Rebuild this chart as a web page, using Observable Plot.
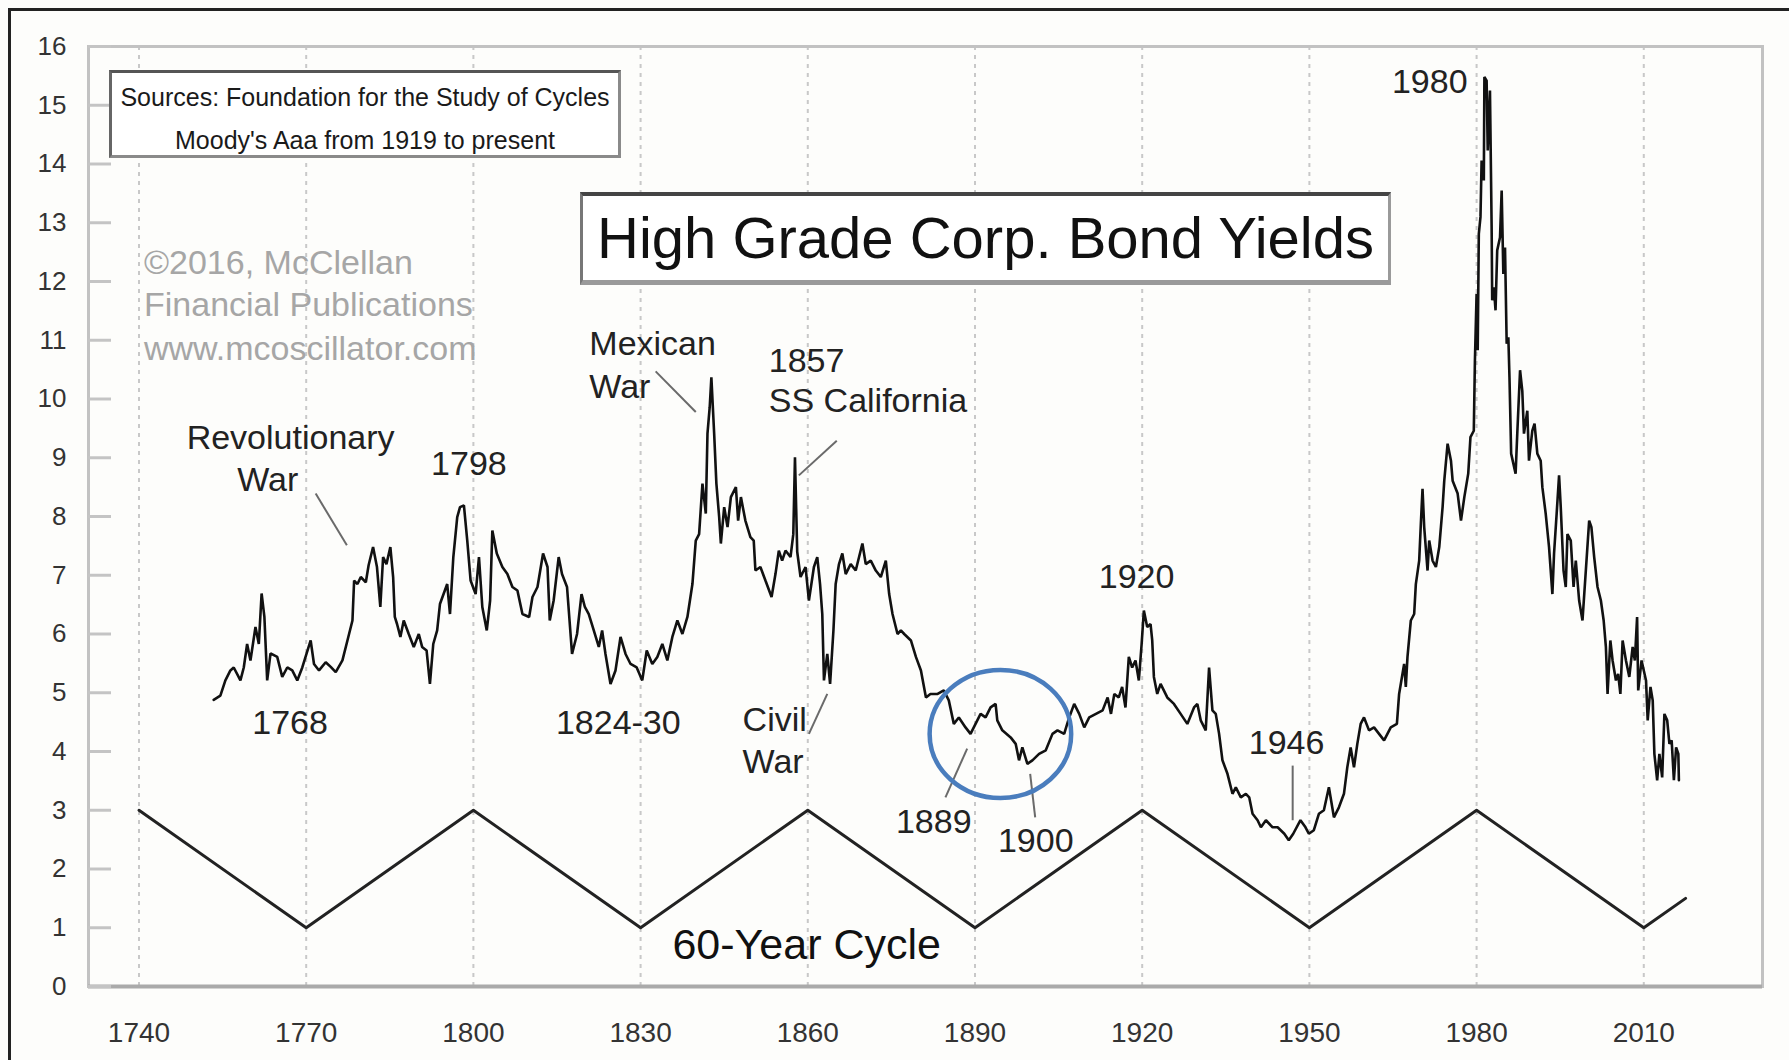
<!DOCTYPE html>
<html><head><meta charset="utf-8">
<script src="https://cdn.jsdelivr.net/npm/d3@7"></script>
<script src="https://cdn.jsdelivr.net/npm/@observablehq/plot@0.6"></script>
<style>
html,body{margin:0;padding:0;background:#fdfdfb;}
#wrap{position:relative;width:1789px;height:1060px;overflow:hidden;font-family:"Liberation Sans",Arial,sans-serif;background:#fdfdfb;}
#chart{position:absolute;left:0;top:0;}
#border{position:absolute;left:8px;top:8px;right:-20px;bottom:-20px;border-top:3px solid #222;border-left:3px solid #222;}
.box{position:absolute;background:#fff;box-sizing:border-box;}
#sources{left:109px;top:70px;width:512px;height:88px;border:3px solid #8a8a8a;border-top-color:#555;border-left-color:#666;}
#sources div{position:absolute;left:0;width:100%;text-align:center;font-size:25px;color:#1a1a1a;line-height:30px;}
#titlebox{left:580px;top:192px;width:811px;height:93px;border:3px solid #9a9a9a;border-top:4px solid #444;border-left-color:#777;border-bottom:5px solid #9a9a9a;}
#titlebox div{position:absolute;left:0;width:100%;text-align:center;font-size:58px;color:#111;line-height:70px;top:7px;}
.copy{position:absolute;left:144px;font-size:34px;color:#a6a6a6;line-height:40px;white-space:nowrap;}
</style></head>
<body>
<div id="wrap">
  <div id="chart"></div>
  <div id="border"></div>
  <div class="box" id="sources"><div style="top:9px">Sources: Foundation for the Study of Cycles</div><div style="top:52px">Moody's Aaa from 1919 to present</div></div>
  <div class="box" id="titlebox"><div>High Grade Corp. Bond Yields</div></div>
  <div class="copy" style="top:242px">©2016, McClellan</div>
  <div class="copy" style="top:284px">Financial Publications</div>
  <div class="copy" style="top:328px">www.mcoscillator.com</div>
</div>
<script>
// ---- tick labels ----
const xTicks = [1740, 1770, 1800, 1830, 1860, 1890, 1920, 1950, 1980, 2010];
const yTicks = [0, 1, 2, 3, 4, 5, 6, 7, 8, 9, 10, 11, 12, 13, 14, 15, 16];

// ---- high grade corporate bond yields ----
const yieldYears = [
1753.4,1754.6,1755.5,1756.4,1757.0,1758.2,1758.8,1759.4,1760.0,1760.9,1761.5,1762.0,1762.5,1763.0,1763.6,1764.8,1765.7,1766.6,1767.5,1768.4,1769.3,1770.8,1771.4,1772.3,1773.5,1774.4,1775.3,1776.5,1777.4,1778.3,1778.6,1779.2,1779.8,1780.7,1781.2,1782.0,1782.7,1783.3,1783.8,1784.4,1785.1,1785.6,1785.9,1786.3,1786.9,1787.5,1788.4,1789.3,1790.2,1790.8,1791.6,1792.2,1792.8,1793.5,1794.0,1795.3,1795.8,1796.4,1797.1,1797.6,1798.3,1798.9,1799.5,
1800.4,1801.0,1801.6,1802.4,1803.0,1803.4,1804.2,1805.2,1806.1,1807.0,1807.9,1808.8,1810.0,1810.6,1811.5,1812.5,1813.3,1813.7,1814.4,1815.3,1815.9,1816.8,1817.7,1818.6,1819.4,1820.0,1820.7,1821.6,1822.5,1823.1,1823.7,1824.6,1825.5,1826.4,1827.3,1828.2,1829.3,1830.3,1831.1,1832.1,1833.0,1833.9,1834.8,1835.7,1836.6,1837.5,1838.4,1839.3,1839.9,1840.5,1841.1,1841.7,1842.0,1842.4,1842.7,1843.2,1843.6,1844.1,1844.4,1845.0,1845.6,1846.2,1847.1,1847.5,1848.0,1848.8,1849.7,1850.3,1850.6,1851.5,1852.4,1853.5,1854.2,1854.8,1855.4,1856.0,1856.9,1857.4,1857.7,1858.1,1858.7,1859.6,
1860.2,1861.1,1861.7,1862.2,1862.6,1862.9,1863.5,1864.0,1864.6,1865.0,1865.6,1866.2,1866.8,1867.7,1868.6,1869.8,1870.4,1871.3,1872.2,1873.1,1874.0,1874.6,1875.2,1876.1,1876.7,1877.3,1878.5,1879.4,1880.3,1881.2,1882.0,1883.3,1884.4,1885.3,1886.2,1887.1,1888.3,1889.2,1890.1,1891.0,1891.9,1892.8,1893.7,1894.0,1894.9,1896.4,1897.3,1897.9,1898.5,1899.4,1900.3,1901.5,1902.7,1903.9,1904.8,1906.0,1906.9,1907.8,1908.7,1909.6,1910.5,1911.7,1912.9,1913.8,1914.4,1915.0,1915.8,1916.4,1917.0,1917.6,1918.2,1918.8,1919.4,1919.9,
1920.3,1920.9,1921.5,1921.8,1922.1,1922.7,1923.3,1924.5,1925.7,1926.9,1928.1,1929.3,1929.9,1930.5,1931.4,1932.0,1932.6,1933.2,1933.8,1934.4,1935.3,1936.2,1936.8,1937.7,1938.6,1939.2,1939.8,1940.7,1941.3,1942.2,1943.4,1944.3,1945.5,1946.3,1947.1,1948.4,1949.3,1949.9,1950.8,1951.7,1952.6,1953.5,1954.4,1955.3,1956.2,1956.8,1957.4,1958.0,1958.6,1959.2,1959.8,1960.7,1961.6,1962.5,1963.4,1964.6,1965.7,1966.1,1966.7,1967.0,1967.3,1967.6,1968.2,1968.8,1969.1,1969.7,1970.0,1970.3,1970.6,1971.2,1971.5,1972.1,1972.7,1973.3,1973.9,1974.2,1974.8,1975.4,1975.7,1976.6,1977.2,1977.8,1978.5,1978.9,1979.5,1979.7,
1980.0,1980.2,1980.4,1980.7,1980.9,1981.3,1981.4,1981.8,1982.0,1982.4,1982.7,1982.8,1983.1,1983.4,1983.7,1984.2,1984.5,1984.8,1985.1,1985.4,1985.7,1985.9,1986.2,1986.6,1987.0,1987.3,1987.8,1988.2,1988.5,1989.1,1989.4,1990.0,1990.4,1990.9,1991.5,1991.8,1992.4,1993.0,1993.6,1993.9,1994.4,1994.8,1995.1,1995.6,1996.0,1996.3,1996.9,1997.4,1997.8,1998.4,1999.0,1999.6,2000.2,2000.6,2001.1,2001.7,2002.3,2002.8,2003.2,2003.5,2004.0,2004.4,2005.0,2005.4,2005.8,2006.2,2006.8,2007.4,2008.0,2008.4,2008.8,2009.0,2009.6,2010.4,2010.7,2011.2,2011.6,2011.9,2012.4,2012.8,2013.3,2013.7,2014.2,2014.6,2015.0,2015.4,2015.8,2016.2,2016.3];
const yieldValues = [
4.88,4.95,5.21,5.38,5.43,5.21,5.43,5.83,5.55,6.12,5.83,6.69,6.29,5.21,5.67,5.61,5.27,5.43,5.38,5.21,5.43,5.89,5.49,5.38,5.52,5.44,5.35,5.55,5.89,6.23,6.91,6.85,6.97,6.88,7.17,7.48,7.14,6.46,7.31,7.19,7.48,6.97,6.29,6.17,5.95,6.23,6.00,5.78,6.00,5.78,5.72,5.15,5.83,6.06,6.51,6.85,6.34,7.31,7.99,8.16,8.19,7.59,6.91,
6.68,7.31,6.46,6.06,6.57,7.76,7.37,7.14,7.02,6.80,6.74,6.34,6.29,6.63,6.80,7.37,7.14,6.23,6.57,7.31,7.02,6.80,5.66,6.00,6.68,6.46,6.34,6.06,5.78,6.06,5.66,5.15,5.38,5.95,5.66,5.49,5.43,5.21,5.72,5.49,5.61,5.83,5.55,5.95,6.23,6.00,6.29,6.85,7.59,7.70,8.56,8.05,9.41,9.86,10.37,9.41,8.56,7.99,7.54,8.16,7.82,8.33,8.50,7.93,8.33,7.93,7.65,7.59,7.08,7.14,6.91,6.63,7.02,7.42,7.25,7.42,7.31,7.70,9.01,7.40,6.97,7.14,
6.57,7.14,7.31,6.85,6.34,5.21,5.66,5.15,6.06,6.85,7.19,7.37,7.02,7.19,7.08,7.54,7.19,7.25,7.08,6.97,7.25,6.68,6.34,6.00,6.06,6.00,5.89,5.61,5.38,4.92,4.98,4.98,5.04,4.87,4.47,4.58,4.41,4.30,4.47,4.64,4.58,4.75,4.81,4.53,4.36,4.24,4.13,3.85,4.07,3.79,3.85,3.96,4.02,4.30,4.36,4.30,4.58,4.81,4.64,4.41,4.58,4.64,4.70,4.92,4.64,4.98,4.92,5.10,4.75,5.61,5.43,5.55,5.21,5.83,
6.40,6.12,6.17,5.89,5.27,4.98,5.15,4.92,4.81,4.64,4.47,4.75,4.81,4.53,4.36,5.43,4.70,4.64,4.30,3.85,3.62,3.28,3.39,3.22,3.28,3.22,2.94,2.83,2.71,2.83,2.71,2.71,2.60,2.49,2.60,2.83,2.71,2.60,2.66,2.94,3.00,3.39,2.88,3.05,3.28,3.73,4.07,3.73,4.13,4.47,4.58,4.36,4.41,4.30,4.19,4.41,4.47,4.98,5.32,5.49,5.10,5.61,6.23,6.34,6.85,7.25,7.88,8.47,7.82,7.08,7.59,7.25,7.14,7.48,8.16,8.61,9.24,8.95,8.61,8.39,7.93,8.33,8.73,9.35,9.46,10.66,
11.79,10.83,12.81,13.10,14.06,13.72,15.48,15.42,14.23,15.25,12.92,11.68,11.90,11.51,12.53,12.75,13.55,12.13,12.58,10.94,11.05,10.37,9.07,8.90,8.73,9.41,10.49,10.14,9.41,9.80,8.95,9.46,9.58,9.07,8.95,8.50,8.05,7.48,6.68,7.37,8.10,8.70,8.16,7.08,6.80,7.70,7.59,6.80,7.25,6.57,6.23,7.08,7.93,7.82,7.31,6.80,6.57,6.23,5.78,4.98,5.89,5.55,5.21,5.32,4.98,5.89,5.55,5.27,5.78,5.55,6.29,5.04,5.55,5.21,4.53,5.10,4.87,3.96,3.51,3.96,3.56,4.64,4.53,4.13,4.19,3.51,4.07,3.96,3.51];

// ---- 60-year cycle vertices ----
const cycleYears  = [1740, 1770, 1800, 1830, 1860, 1890, 1920, 1950, 1980, 2010, 2017.5];
const cycleValues = [3, 1, 3, 1, 3, 1, 3, 1, 3, 1, 1.5];

// ---- annotations (label, year, value, alignment) ----
const annoText  = ["Revolutionary", "War", "1798", "1768", "Mexican", "War", "1857", "SS California", "1824-30", "Civil", "War", "1889", "1900", "1920", "1946", "1980"];
const annoYear  = [1767.2, 1763.1, 1799.2, 1767.1, 1820.8, 1820.8, 1853.0, 1853.0, 1826.0, 1848.3, 1848.3, 1882.6, 1900.9, 1919.0, 1945.9, 1971.6];
const annoValue = [9.33, 8.62, 8.90, 4.49, 10.94, 10.20, 10.64, 9.96, 4.49, 4.53, 3.82, 2.80, 2.47, 6.96, 4.14, 15.40];
const annoAlign = ["middle", "middle", "middle", "middle", "start", "start", "start", "start", "middle", "start", "start", "middle", "middle", "middle", "middle", "middle"];

// ---- pointer lines ----
const ptrX1 = [1771.7, 1832.7, 1858.4, 1860.2, 1884.7, 1899.9, 1947.0];
const ptrY1 = [8.39, 10.47, 8.70, 4.30, 3.22, 3.62, 3.76];
const ptrX2 = [1777.3, 1839.9, 1865.2, 1863.5, 1888.6, 1900.8, 1947.0];
const ptrY2 = [7.51, 9.78, 9.29, 4.98, 4.05, 2.88, 2.83];

// ---- highlighted ring around 1889-1900 ----
const ringCenter = [1894.65, 4.29];
const ringHalf   = [12.7, 1.09];

const series = yieldYears.map((x, i) => ({x, y: yieldValues[i]}));
const cycle = cycleYears.map((x, i) => ({x, y: cycleValues[i]}));
const annos = annoText.map((t, i) => ({t, x: annoYear[i], y: annoValue[i], a: annoAlign[i]}));
const ptrs = ptrX1.map((x1, i) => ({x1, y1: ptrY1[i], x2: ptrX2[i], y2: ptrY2[i]}));

const W = 1789, H = 1060, ML = 88, MR = 27, MT = 46, MB = 74;
const font = "Liberation Sans, Arial, sans-serif";

const ring = (index, scales) => {
  const cx = scales.x(ringCenter[0]), cy = scales.y(ringCenter[1]);
  const rx = scales.x(ringCenter[0] + ringHalf[0]) - cx;
  const ry = cy - scales.y(ringCenter[1] + ringHalf[1]);
  const e = document.createElementNS("http://www.w3.org/2000/svg", "ellipse");
  e.setAttribute("cx", cx); e.setAttribute("cy", cy);
  e.setAttribute("rx", rx); e.setAttribute("ry", ry);
  e.setAttribute("fill", "none"); e.setAttribute("stroke", "#4a7dbd");
  e.setAttribute("stroke-width", 4.5);
  return e;
};

const plot = Plot.plot({
  width: W, height: H,
  marginLeft: ML, marginRight: MR, marginTop: MT, marginBottom: MB,
  style: {background: "transparent", fontFamily: font},
  x: {domain: [1730.94, 2031.3]},
  y: {domain: [0, 16]},
  marks: [
    Plot.ruleX(xTicks, {x: d => d, stroke: "#c8c8c8", strokeWidth: 2, strokeDasharray: "4,5"}),
    Plot.frame({stroke: "#c2c2c2", strokeWidth: 3}),
    Plot.ruleY([0], {stroke: "#aaaaaa", strokeWidth: 4}),
    Plot.tickY(yTicks, {y: d => d, stroke: "#c4c4c4", strokeWidth: 3, insetRight: W - ML - MR - 23}),
    Plot.axisY({ticks: yTicks, tickSize: 0, tickPadding: 22, fontSize: 26, color: "#333", label: null, tickFormat: d => String(d)}),
    Plot.axisX({ticks: xTicks, tickSize: 0, tickPadding: 36, fontSize: 28, color: "#333", label: null, tickFormat: d => String(d)}),
    Plot.line(cycle, {x: "x", y: "y", stroke: "#222", strokeWidth: 3}),
    Plot.line(series, {x: "x", y: "y", stroke: "#111", strokeWidth: 2.6, strokeLinejoin: "miter"}),
    Plot.link(ptrs, {x1: "x1", y1: "y1", x2: "x2", y2: "y2", stroke: "#6a6a6a", strokeWidth: 2}),
    ring,
    Plot.text(annos.filter(d => d.a === "middle"), {x: "x", y: "y", text: "t", textAnchor: "middle", fontSize: 34, fill: "#222"}),
    Plot.text(annos.filter(d => d.a === "start"), {x: "x", y: "y", text: "t", textAnchor: "start", fontSize: 34, fill: "#222"}),
    Plot.text(["60-Year Cycle"], {x: [1859.8], y: [0.70], text: d => d, textAnchor: "middle", fontSize: 43, fill: "#111"})
  ]
});
document.getElementById("chart").appendChild(plot);
</script>
</body></html>
